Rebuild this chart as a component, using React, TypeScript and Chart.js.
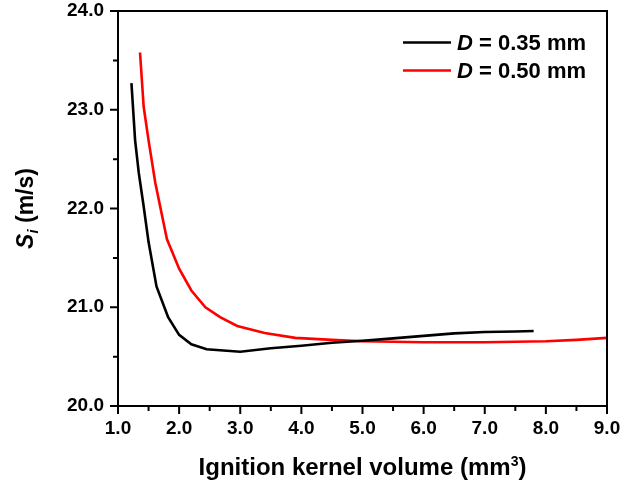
import React, { useEffect, useRef } from 'react';
import { Chart, registerables } from 'chart.js';

Chart.register(...registerables);

// ---- data ----
const legendLabels = ['0.35', '0.50'];
const seriesColors = ['#000000', '#ff0000'];

const d035X = [1.22, 1.28, 1.34, 1.42, 1.5, 1.63, 1.82, 2.0, 2.2, 2.45, 3.0, 3.5, 4.0, 4.5, 5.0, 5.5, 6.0, 6.5, 7.0, 7.5, 7.8];
const d035Y = [23.27, 22.69, 22.36, 22.02, 21.66, 21.21, 20.9, 20.72, 20.625, 20.575, 20.55, 20.585, 20.61, 20.64, 20.66, 20.685, 20.71, 20.735, 20.75, 20.755, 20.76];

const d050X = [1.36, 1.42, 1.5, 1.61, 1.8, 2.0, 2.2, 2.43, 2.67, 2.95, 3.4, 3.9, 4.5, 5.0, 5.5, 6.0, 6.5, 7.0, 7.5, 8.0, 8.5, 9.0];
const d050Y = [23.58, 23.03, 22.69, 22.26, 21.69, 21.39, 21.17, 21.0, 20.9, 20.81, 20.74, 20.69, 20.67, 20.655, 20.65, 20.645, 20.645, 20.645, 20.65, 20.655, 20.67, 20.69];

const xMin = 1, xMax = 9, yMin = 20, yMax = 24;
const tickStep = 0.5;

const xTitleMain = 'Ignition kernel volume (mm';
const xTitleSup = '3';
const xTitleEnd = ')';
const yTitleSym = 'S';
const yTitleSub = 'i';
const yTitleRest = ' (m/s)';

const FONT = '"Liberation Sans", Arial, Helvetica, sans-serif';

const decorPlugin = {
  id: 'decor',
  afterDraw(chart: any) {
    const { ctx, chartArea } = chart;
    const { left, right, top, bottom } = chartArea;
    const xs = chart.scales.x;
    const ys = chart.scales.y;
    ctx.save();
    // frame
    ctx.strokeStyle = '#000';
    ctx.lineWidth = 2;
    ctx.strokeRect(left, top, right - left, bottom - top);
    // ticks
    ctx.beginPath();
    for (let v = xMin; v <= xMax + 1e-9; v += tickStep) {
      const major = Math.abs(v - Math.round(v)) < 1e-9;
      const px = xs.getPixelForValue(v);
      ctx.moveTo(px, bottom);
      ctx.lineTo(px, bottom + (major ? 8 : 5));
    }
    for (let v = yMin; v <= yMax + 1e-9; v += tickStep) {
      const major = Math.abs(v - Math.round(v)) < 1e-9;
      const py = ys.getPixelForValue(v);
      ctx.moveTo(left, py);
      ctx.lineTo(left - (major ? 8 : 5), py);
    }
    ctx.stroke();

    // x title
    ctx.fillStyle = '#000';
    ctx.textBaseline = 'alphabetic';
    const mainFont = `bold 24px ${FONT}`;
    const supFont = `bold 14px ${FONT}`;
    ctx.font = mainFont;
    const w1 = ctx.measureText(xTitleMain).width;
    const w3 = ctx.measureText(xTitleEnd).width;
    ctx.font = supFont;
    const w2 = ctx.measureText(xTitleSup).width;
    const total = w1 + w2 + w3;
    let tx = (left + right) / 2 - total / 2;
    const ty = 475;
    ctx.textAlign = 'left';
    ctx.font = mainFont;
    ctx.fillText(xTitleMain, tx, ty);
    tx += w1;
    ctx.font = supFont;
    ctx.fillText(xTitleSup, tx, ty - 9);
    tx += w2;
    ctx.font = mainFont;
    ctx.fillText(xTitleEnd, tx, ty);

    // y title
    ctx.save();
    ctx.translate(33, (top + bottom) / 2);
    ctx.rotate(-Math.PI / 2);
    const symFont = `italic bold 23px ${FONT}`;
    const subFont = `italic bold 15px ${FONT}`;
    const restFont = `bold 23px ${FONT}`;
    ctx.font = symFont;
    const a1 = ctx.measureText(yTitleSym).width;
    ctx.font = subFont;
    const a2 = ctx.measureText(yTitleSub).width;
    ctx.font = restFont;
    const a3 = ctx.measureText(yTitleRest).width;
    let yx = -(a1 + a2 + a3) / 2;
    ctx.font = symFont;
    ctx.fillText(yTitleSym, yx, 0);
    yx += a1;
    ctx.font = subFont;
    ctx.fillText(yTitleSub, yx, 5);
    yx += a2;
    ctx.font = restFont;
    ctx.fillText(yTitleRest, yx, 0);
    ctx.restore();

    // legend
    const legFont = `bold 22px ${FONT}`;
    const legItal = `italic bold 22px ${FONT}`;
    const rows = [top + 31.5, top + 59.5];
    legendLabels.forEach((lab, i) => {
      const ly = rows[i];
      ctx.strokeStyle = seriesColors[i];
      ctx.lineWidth = 2.5;
      ctx.beginPath();
      ctx.moveTo(right - 204, ly);
      ctx.lineTo(right - 156, ly);
      ctx.stroke();
      ctx.fillStyle = '#000';
      ctx.textBaseline = 'middle';
      let lx = right - 150;
      ctx.font = legItal;
      ctx.fillText('D', lx, ly + 1);
      lx += ctx.measureText('D').width;
      ctx.font = legFont;
      ctx.fillText(` = ${lab} mm`, lx, ly + 1);
    });
    ctx.restore();
  },
};

export default function App() {
  const ref = useRef<HTMLCanvasElement>(null);
  useEffect(() => {
    if (!ref.current) return;
    const chart = new Chart(ref.current, {
      type: 'line',
      data: {
        datasets: [
          {
            label: `D = ${legendLabels[0]} mm`,
            data: d035X.map((x, i) => ({ x, y: d035Y[i] })),
            borderColor: seriesColors[0],
            borderWidth: 2.6,
            pointRadius: 0,
            tension: 0,
            fill: false,
          },
          {
            label: `D = ${legendLabels[1]} mm`,
            data: d050X.map((x, i) => ({ x, y: d050Y[i] })),
            borderColor: seriesColors[1],
            borderWidth: 2.6,
            pointRadius: 0,
            tension: 0,
            fill: false,
          },
        ],
      },
      options: {
        animation: false,
        responsive: true,
        maintainAspectRatio: false,
        layout: { padding: { top: 11, right: 15, left: 0, bottom: 0 } },
        plugins: { legend: { display: false }, tooltip: { enabled: false } },
        scales: {
          x: {
            type: 'linear',
            min: xMin,
            max: xMax,
            grid: { display: false, drawTicks: false },
            border: { display: false },
            ticks: {
              stepSize: tickStep,
              padding: 11,
              color: '#000',
              autoSkip: false,
              maxRotation: 0,
              font: { family: FONT, size: 19, weight: 'bold' },
              callback: (v: any) => (Math.abs(v - Math.round(v)) < 1e-9 ? Number(v).toFixed(1) : ''),
            },
            afterFit: (s: any) => { s.height = 82; s.paddingLeft = 0; s.paddingRight = 0; },
          },
          y: {
            type: 'linear',
            min: yMin,
            max: yMax,
            grid: { display: false, drawTicks: false },
            border: { display: false },
            ticks: {
              stepSize: tickStep,
              padding: 14,
              color: '#000',
              autoSkip: false,
              font: { family: FONT, size: 19, weight: 'bold' },
              callback: (v: any) => (Math.abs(v - Math.round(v)) < 1e-9 ? Number(v).toFixed(1) : ''),
            },
            afterFit: (s: any) => { s.width = 118; s.paddingTop = 0; s.paddingBottom = 0; },
          },
        },
      },
      plugins: [decorPlugin],
    });
    return () => chart.destroy();
  }, []);
  return (
    <div style={{ position: 'fixed', left: 0, top: 0, width: 622, height: 488, background: '#fff' }}>
      <canvas ref={ref} />
    </div>
  );
}
